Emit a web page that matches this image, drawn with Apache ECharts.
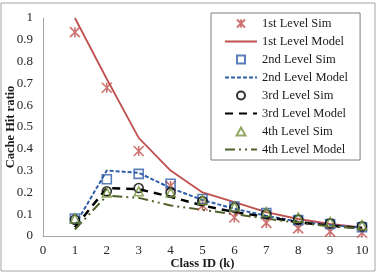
<!DOCTYPE html>
<html>
<head>
<meta charset="utf-8">
<script src="https://cdn.jsdelivr.net/npm/echarts@6/dist/echarts.min.js"></script>
<style>
  html, body { margin: 0; padding: 0; background: #fff; }
  #chart { width: 379px; height: 273px; }
</style>
</head>
<body>
<div id="chart"></div>
<script>
/* chart data */
var classIds = [1, 2, 3, 4, 5, 6, 7, 8, 9, 10]
var level1Sim = [0.935, 0.68, 0.39, 0.23, 0.14, 0.085, 0.06, 0.035, 0.02, 0.015]
var level1Model = [1.0, 0.72, 0.45, 0.3, 0.2, 0.155, 0.11, 0.078, 0.055, 0.04]
var level2Sim = [0.08, 0.26, 0.285, 0.24, 0.17, 0.135, 0.105, 0.073, 0.055, 0.04]
var level2Model = [0.05, 0.3, 0.29, 0.22, 0.165, 0.125, 0.093, 0.066, 0.05, 0.038]
var level3Sim = [0.075, 0.205, 0.22, 0.2, 0.16, 0.13, 0.1, 0.075, 0.058, 0.045]
var level3Model = [0.04, 0.22, 0.215, 0.18, 0.14, 0.11, 0.087, 0.063, 0.047, 0.036]
var level4Sim = [0.08, 0.2, 0.205, 0.2, 0.165, 0.135, 0.11, 0.085, 0.065, 0.05]
var level4Model = [0.03, 0.185, 0.175, 0.14, 0.12, 0.1, 0.08, 0.06, 0.045, 0.035]
var xTicks = [0, 1, 2, 3, 4, 5, 6, 7, 8, 9, 10]
var yTicks = [0, 0.1, 0.2, 0.3, 0.4, 0.5, 0.6, 0.7, 0.8, 0.9, 1]

var FONT = '"Liberation Serif", "Times New Roman", serif'
// marker shapes (paths keep their aspect in the legend)
var ASTERISK = 'path://M0,0L10,10M10,0L0,10M5,0L5,10'
var SQUARE = 'path://M0,0H10V10H0Z'
var CIRCLE = 'path://M5,0A5,5 0 1,1 5,10A5,5 0 1,1 5,0Z'
var TRIANGLE = 'path://M5,0L10,9H0Z'

function pairs(values) {
  return classIds.map(function (x, i) { return [x, values[i]] })
}

function simSeries(name, values, symbol, color, size) {
  return {
    name: name,
    type: 'scatter',
    data: pairs(values),
    symbol: symbol,
    symbolSize: size,
    z: 5,
    itemStyle: { color: 'rgba(255,255,255,0)', borderColor: color, borderWidth: 1.6 },
  }
}

function modelSeries(name, values, color, width, type) {
  return {
    name: name,
    type: 'line',
    data: pairs(values),
    symbol: 'none',
    z: 3,
    itemStyle: { color: color },
    lineStyle: { color: color, width: width, type: type },
  }
}

var series = [
  simSeries('1st Level Sim', level1Sim, ASTERISK, '#c0504d', 10),
  modelSeries('1st Level Model', level1Model, '#c0504d', 1.8, 'solid'),
  simSeries('2nd Level Sim', level2Sim, SQUARE, '#2f5ea8', 9),
  modelSeries('2nd Level Model', level2Model, '#2f5ea8', 2, [4, 2]),
  simSeries('3rd Level Sim', level3Sim, CIRCLE, '#000000', 9),
  modelSeries('3rd Level Model', level3Model, '#000000', 2.5, [8, 6]),
  simSeries('4th Level Sim', level4Sim, TRIANGLE, '#77933c', 9),
  modelSeries('4th Level Model', level4Model, '#4f6228', 2, [10, 4, 2, 4, 2, 4]),
]

// legend: lines without the dot for model series
var legendData = series.map(function (s) {
  if (s.type === 'line') return { name: s.name, itemStyle: { opacity: 0 } }
  return { name: s.name }
})

var myChart = echarts.init(document.getElementById('chart'))
var option = {
  animation: false,
  grid: { left: 43, right: 17, top: 18, bottom: 37, outerBoundsMode: 'none' },
  graphic: [{
    type: 'rect',
    shape: { x: 1, y: 3, width: 374, height: 268 },
    style: { fill: null, stroke: '#a6a6a6', lineWidth: 1 },
    z: -10,
  }],
  legend: {
    orient: 'vertical',
    left: 211,
    top: 13,
    padding: [3, 12, 3, 13],
    itemWidth: 32,
    itemHeight: 8,
    itemGap: 3,
    borderColor: '#7f7f7f',
    borderWidth: 1,
    data: legendData,
    textStyle: { fontFamily: FONT, fontSize: 12.5, lineHeight: 15, color: '#1a1a1a' },
  },
  xAxis: {
    type: 'value',
    min: xTicks[0],
    max: xTicks[xTicks.length - 1],
    interval: 1,
    name: 'Class ID (k)',
    nameLocation: 'middle',
    nameGap: 21,
    nameMoveOverlap: false,
    nameTextStyle: { fontFamily: FONT, fontSize: 12.5, fontWeight: 'bold', color: '#1a1a1a' },
    axisLine: { lineStyle: { color: '#a6a6a6' } },
    axisTick: { show: false },
    splitLine: { show: false },
    axisLabel: { fontFamily: FONT, fontSize: 13, color: '#262626', margin: 8 },
  },
  yAxis: {
    type: 'value',
    min: yTicks[0],
    max: yTicks[yTicks.length - 1],
    interval: 0.1,
    name: 'Cache Hit ratio',
    nameLocation: 'middle',
    nameGap: 26,
    nameMoveOverlap: false,
    nameTextStyle: { fontFamily: FONT, fontSize: 12.5, fontWeight: 'bold', color: '#1a1a1a' },
    axisLine: { show: true, lineStyle: { color: '#a6a6a6' } },
    axisTick: { show: false },
    splitLine: { show: false },
    axisLabel: { fontFamily: FONT, fontSize: 13, color: '#262626', margin: 10 },
  },
  series: series,
}
myChart.setOption(option)
</script>
</body>
</html>
